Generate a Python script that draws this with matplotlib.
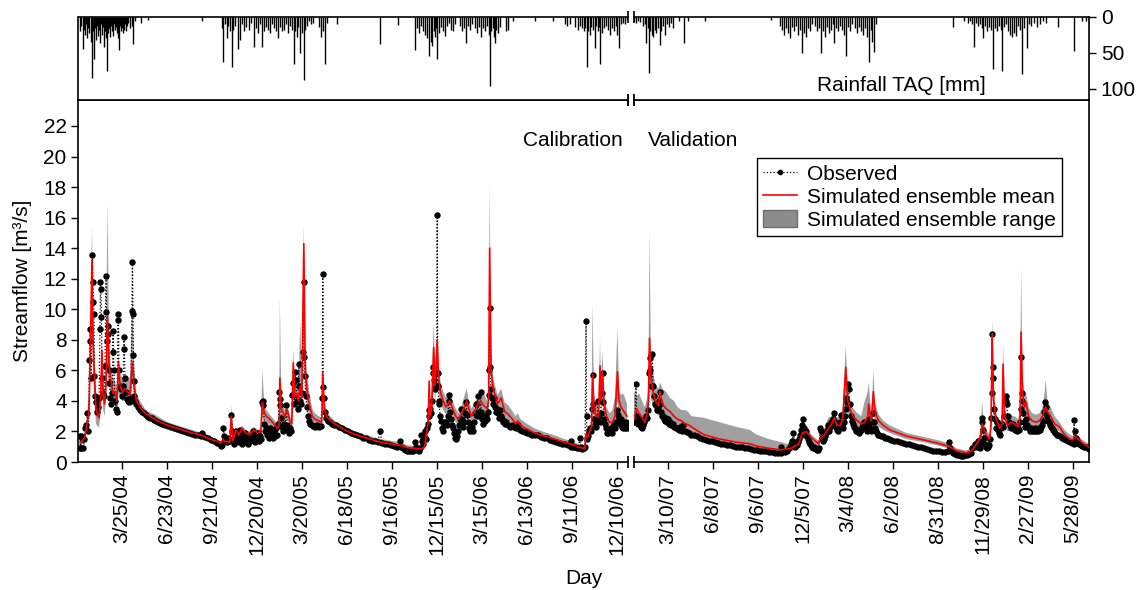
import numpy as np
import matplotlib
matplotlib.use("Agg")
import matplotlib.pyplot as plt
from matplotlib.lines import Line2D
from matplotlib.patches import Patch

plt.rcParams['font.family'] = ['Liberation Sans', 'DejaVu Sans']

# ---------------- data ----------------
cal_start = '2004-01-01'
val_start = '2007-01-01'

tick_labels = ['3/25/04', '6/23/04', '9/21/04', '12/20/04', '3/20/05', '6/18/05',
               '9/16/05', '12/15/05', '3/15/06', '6/13/06', '9/11/06', '12/10/06',
               '3/10/07', '6/8/07', '9/6/07', '12/5/07', '3/4/08', '6/2/08',
               '8/31/08', '11/29/08', '2/27/09', '5/28/09']

# simulated ensemble, calibration: (day since 1/1/04, mean, upper, lower)
cal_sim = [
    (0, 1.3, 1.5, 1.1), (5, 1.4, 1.7, 1.2), (10, 1.6, 2.0, 1.4), (14, 2.5, 3.0, 2.2),
    (18, 3.2, 4.5, 2.8), (21, 8.0, 9.0, 6.0), (24, 13.2, 15.4, 9.0), (26, 8.0, 10.0, 6.0),
    (29, 5.5, 7.0, 4.0), (32, 3.5, 4.5, 2.5), (36, 3.0, 4.0, 2.3), (38, 2.9, 3.8, 2.3),
    (41, 4.0, 5.0, 3.0), (44, 7.3, 8.0, 5.5), (46, 4.5, 5.5, 3.5), (49, 3.8, 4.5, 3.0),
    (52, 5.0, 7.0, 4.0), (55, 9.5, 17.0, 6.0), (58, 6.5, 8.5, 5.0), (61, 5.5, 6.5, 4.5),
    (66, 4.5, 5.5, 4.0), (70, 4.6, 5.3, 4.0), (74, 4.0, 4.8, 3.5), (77, 6.5, 7.0, 4.5),
    (80, 5.0, 5.8, 4.2), (85, 4.6, 5.5, 4.0), (90, 4.8, 5.6, 4.0), (95, 4.6, 5.4, 3.8),
    (100, 4.4, 5.5, 3.8), (105, 6.5, 11.0, 5.5), (108, 5.0, 6.5, 4.2), (113, 4.0, 4.5, 3.5),
    (120, 3.6, 4.0, 3.3), (130, 3.2, 3.5, 3.0), (136, 3.1, 3.3, 2.9), (150, 2.8, 3.1, 2.6),
    (165, 2.55, 2.8, 2.4), (176, 2.4, 2.6, 2.25), (200, 2.15, 2.35, 2.0), (225, 1.9, 2.1, 1.75),
    (243, 1.75, 1.9, 1.6), (260, 1.5, 1.65, 1.35), (270, 1.4, 1.55, 1.25), (283, 1.25, 1.35, 1.1),
    (286, 1.5, 1.6, 1.2), (290, 1.35, 1.45, 1.2), (300, 1.3, 1.4, 1.2), (303, 3.0, 3.7, 2.5),
    (306, 1.4, 1.7, 1.2), (312, 2.1, 2.3, 1.8), (318, 1.8, 2.0, 1.6), (324, 2.2, 2.4, 1.9),
    (332, 1.9, 2.1, 1.7), (340, 1.8, 2.0, 1.6), (348, 2.1, 2.3, 1.8), (356, 1.9, 2.1, 1.7),
    (362, 2.0, 2.2, 1.8), (365, 3.9, 6.0, 3.0), (369, 3.2, 3.8, 2.7), (373, 3.0, 3.4, 2.6),
    (380, 2.8, 3.1, 2.4), (388, 2.5, 2.8, 2.2), (395, 2.2, 2.5, 2.0), (399, 2.4, 3.5, 2.1),
    (400, 5.5, 10.8, 3.5), (403, 3.5, 4.2, 2.8), (410, 3.0, 3.4, 2.6), (415, 3.4, 3.8, 2.8),
    (420, 2.7, 3.0, 2.4), (424, 2.5, 2.8, 2.2), (427, 6.5, 7.4, 4.5), (430, 4.3, 5.0, 3.6),
    (434, 4.5, 5.0, 3.8), (437, 4.0, 4.6, 3.4), (441, 5.0, 9.3, 3.8), (444, 4.2, 5.5, 3.6),
    (448, 14.3, 15.5, 10.0), (451, 6.0, 7.5, 4.8), (455, 4.5, 5.5, 3.6), (460, 3.6, 4.4, 3.0),
    (465, 3.0, 3.5, 2.6), (470, 2.8, 3.2, 2.5), (478, 2.7, 3.0, 2.4), (484, 2.6, 2.9, 2.3),
    (486, 5.8, 6.0, 4.0), (489, 3.5, 4.0, 3.0), (495, 2.9, 3.2, 2.6), (510, 2.5, 2.7, 2.3),
    (530, 2.1, 2.3, 1.9), (543, 1.9, 2.1, 1.75), (560, 1.7, 1.9, 1.55), (576, 1.55, 1.75, 1.4),
    (590, 1.4, 1.6, 1.25), (603, 1.3, 1.5, 1.15), (620, 1.2, 1.4, 1.05), (640, 1.1, 1.3, 0.95),
    (655, 0.95, 1.1, 0.85), (670, 0.9, 1.05, 0.8), (683, 0.85, 1.0, 0.75), (690, 1.0, 1.2, 0.85),
    (694, 2.0, 2.3, 1.6), (697, 2.6, 3.0, 2.2), (699, 5.3, 5.5, 3.0), (701, 3.0, 3.5, 2.6),
    (704, 3.5, 4.5, 3.0), (708, 7.5, 9.2, 5.0), (711, 5.0, 6.0, 4.0), (715, 8.0, 8.5, 6.0),
    (718, 5.5, 6.2, 4.5), (722, 4.5, 5.2, 3.8), (727, 4.0, 4.6, 3.4), (733, 3.6, 4.2, 3.1),
    (740, 4.0, 4.6, 3.4), (746, 3.5, 4.0, 3.0), (752, 3.0, 3.5, 2.6), (758, 2.8, 3.2, 2.4),
    (764, 3.2, 3.7, 2.8), (771, 3.7, 4.5, 3.2), (774, 4.0, 4.8, 3.4), (779, 3.4, 3.9, 2.9),
    (784, 3.0, 3.5, 2.6), (790, 3.3, 3.9, 2.8), (796, 3.8, 4.2, 3.2), (802, 4.0, 4.3, 3.4),
    (808, 3.7, 4.5, 3.1), (815, 3.5, 4.0, 3.0), (818, 4.0, 5.0, 3.2), (820, 14.0, 18.2, 9.0),
    (823, 6.0, 7.5, 4.8), (827, 4.8, 5.5, 4.0), (831, 4.4, 5.0, 3.7), (836, 3.8, 4.4, 3.3),
    (843, 4.2, 4.8, 3.5), (850, 3.3, 3.9, 2.9), (858, 3.1, 3.7, 2.7), (866, 2.8, 3.3, 2.5),
    (872, 2.5, 3.0, 2.2), (876, 2.7, 3.2, 2.4), (882, 2.4, 2.8, 2.2), (895, 2.15, 2.5, 1.95),
    (910, 1.9, 2.2, 1.75), (930, 1.7, 1.95, 1.55), (950, 1.5, 1.75, 1.35), (970, 1.3, 1.5, 1.15),
    (985, 1.15, 1.35, 1.0), (1000, 0.95, 1.15, 0.85), (1010, 0.9, 1.05, 0.8), (1013, 1.8, 2.0, 1.3),
    (1016, 1.6, 1.9, 1.3), (1020, 2.0, 2.3, 1.7), (1024, 2.3, 2.8, 2.0), (1026, 5.7, 10.4, 4.0),
    (1029, 3.5, 4.5, 2.8), (1033, 3.0, 3.6, 2.5), (1038, 3.0, 4.0, 2.5), (1041, 6.3, 8.0, 4.5),
    (1043, 4.0, 5.0, 3.2), (1046, 5.9, 7.3, 4.2), (1049, 3.8, 4.5, 3.0), (1054, 3.0, 3.6, 2.5),
    (1060, 2.6, 3.2, 2.2), (1066, 2.6, 3.4, 2.2), (1071, 3.0, 4.3, 2.5), (1076, 5.9, 8.8, 4.0),
    (1079, 4.0, 4.6, 3.0), (1083, 3.6, 4.4, 2.9), (1087, 3.4, 4.5, 2.7), (1091, 3.2, 4.2, 2.6),
    (1095, 3.0, 3.8, 2.5),
]

# simulated ensemble, validation: (day since 1/1/07, mean, upper, lower)
val_sim = [
    (0, 2.8, 4.6, 2.3), (5, 3.5, 4.3, 2.6), (10, 3.2, 4.5, 2.5), (16, 2.9, 4.0, 2.3),
    (22, 2.6, 3.6, 2.1), (26, 3.2, 4.2, 2.5), (29, 4.0, 5.0, 3.0), (31, 8.1, 15.2, 5.0),
    (34, 5.5, 6.5, 4.2), (38, 4.6, 5.8, 3.6), (44, 3.9, 5.0, 3.2), (49, 3.7, 4.8, 3.0),
    (52, 4.6, 5.2, 3.6), (57, 3.8, 4.8, 3.1), (64, 3.5, 4.6, 2.9), (72, 3.3, 4.2, 2.7),
    (80, 3.0, 4.0, 2.5), (87, 2.8, 3.6, 2.4), (95, 2.7, 3.4, 2.3), (102, 2.5, 3.4, 2.2),
    (108, 2.45, 3.3, 2.1), (115, 2.3, 3.0, 2.0), (139, 1.8, 2.9, 1.6), (172, 1.5, 2.6, 1.3),
    (205, 1.3, 2.3, 1.1), (232, 1.2, 2.1, 1.0), (245, 1.05, 1.8, 0.9), (270, 0.9, 1.5, 0.75),
    (295, 0.8, 1.3, 0.65), (315, 0.9, 1.1, 0.7), (330, 1.2, 1.4, 0.9), (337, 1.9, 2.1, 1.5),
    (345, 2.0, 2.2, 1.6), (355, 1.6, 1.8, 1.3), (369, 1.2, 1.4, 1.0), (374, 1.6, 1.9, 1.3),
    (380, 1.7, 2.1, 1.4), (389, 2.2, 2.9, 1.8), (396, 2.5, 3.0, 2.0), (401, 2.9, 3.3, 2.3),
    (406, 2.4, 2.9, 2.0), (413, 2.4, 3.0, 2.0), (418, 2.8, 3.5, 2.3), (424, 6.2, 7.6, 4.5),
    (428, 4.0, 4.6, 3.2), (433, 3.4, 3.9, 2.8), (439, 3.0, 3.5, 2.5), (447, 2.7, 3.2, 2.3),
    (455, 2.5, 3.0, 2.1), (462, 2.6, 4.0, 2.2), (468, 3.0, 4.6, 2.5), (470, 3.8, 5.2, 2.8),
    (474, 2.7, 3.6, 2.3), (477, 3.2, 4.0, 2.6), (479, 4.6, 6.0, 3.2), (483, 3.2, 3.8, 2.6),
    (490, 2.7, 3.1, 2.3), (499, 2.4, 2.7, 2.1), (512, 2.1, 2.4, 1.9), (545, 1.7, 1.9, 1.5),
    (579, 1.45, 1.65, 1.3), (612, 1.2, 1.4, 1.05), (632, 1.0, 1.2, 0.85), (645, 0.75, 0.9, 0.6),
    (665, 0.6, 0.75, 0.5), (675, 0.7, 0.9, 0.55), (682, 1.0, 1.2, 0.8), (690, 1.4, 1.6, 1.1),
    (695, 1.8, 2.4, 1.4), (697, 2.5, 4.0, 1.8), (700, 2.2, 2.6, 1.7), (705, 1.8, 2.1, 1.4),
    (712, 1.5, 1.8, 1.2), (715, 2.5, 3.0, 2.0), (717, 8.4, 9.4, 6.0), (720, 4.0, 4.8, 3.0),
    (725, 2.8, 3.2, 2.2), (732, 2.2, 2.6, 1.8), (737, 2.5, 3.0, 2.0), (739, 6.4, 7.8, 4.5),
    (742, 3.0, 3.6, 2.4), (748, 2.4, 2.8, 2.0), (755, 2.6, 3.0, 2.1), (762, 2.5, 3.0, 2.1),
    (769, 2.3, 2.8, 1.9), (773, 2.8, 3.4, 2.2), (775, 8.5, 12.8, 6.0), (778, 4.5, 5.5, 3.5),
    (782, 3.6, 4.4, 2.9), (785, 3.9, 4.5, 3.0), (790, 3.0, 3.6, 2.5), (797, 2.7, 3.2, 2.3),
    (805, 2.6, 3.1, 2.2), (812, 2.7, 3.2, 2.3), (818, 3.0, 3.6, 2.5), (822, 3.4, 4.5, 2.8),
    (824, 3.6, 5.4, 3.0), (828, 3.3, 4.0, 2.7), (834, 3.0, 3.6, 2.5), (842, 2.5, 3.0, 2.2),
    (852, 2.3, 2.6, 2.0), (862, 1.8, 2.1, 1.6), (872, 1.5, 1.8, 1.35), (879, 1.45, 1.7, 1.3),
    (882, 1.7, 1.9, 1.4), (889, 1.5, 1.7, 1.3), (900, 1.2, 1.4, 1.05), (910, 1.0, 1.2, 0.9),
]

# observed streamflow, calibration: (day since 1/1/04, m3/s)
cal_obs = [
    (0, 0.9), (1, 1.7), (2, 0.9), (3, 1.7), (5, 1.6), (7, 0.9), (9, 1.5), (11, 2.2), (13, 2.4),
    (15, 3.2), (17, 2.0), (19, 6.7), (20, 8.7), (21, 7.9), (22, 5.5), (25, 13.55), (26, 11.8),
    (27, 10.5), (28, 9.7), (29, 5.6), (30, 4.3), (32, 3.9), (34, 3.3), (36, 3.6), (38, 4.2),
    (40, 8.7), (41, 11.8), (42, 11.3), (43, 9.5), (44, 5.5), (46, 4.5), (48, 4.3), (50, 6.3),
    (52, 12.2), (53, 9.8), (54, 7.9), (56, 8.9), (57, 8.4), (58, 6.0), (59, 5.2), (61, 4.2),
    (63, 3.8), (65, 4.5), (66, 8.6), (67, 7.2), (68, 6.0), (70, 4.0), (72, 3.5), (74, 3.3),
    (76, 9.7), (77, 9.3), (78, 6.0), (80, 5.0), (82, 4.8), (84, 4.3), (86, 5.0), (88, 8.2),
    (89, 7.4), (90, 5.5), (92, 4.6), (94, 4.1), (96, 4.0), (98, 3.9), (100, 4.2), (102, 4.0),
    (104, 9.9), (105, 13.1), (106, 9.7), (107, 7.0), (108, 5.3), (109, 4.3), (111, 4.0),
    (113, 3.8), (116, 3.6), (120, 3.4), (124, 3.3), (128, 3.2), (132, 3.1), (136, 2.95),
    (140, 2.9), (144, 2.85), (148, 2.75), (152, 2.7), (156, 2.6), (160, 2.55), (165, 2.5),
    (170, 2.4), (176, 2.35), (182, 2.3), (188, 2.2), (194, 2.15), (200, 2.1), (206, 2.0),
    (212, 1.95), (218, 1.9), (224, 1.85), (230, 1.8), (236, 1.75), (242, 1.72), (245, 1.9),
    (250, 1.65), (256, 1.55), (262, 1.45), (268, 1.35), (274, 1.25), (280, 1.15), (283, 1.05),
    (285, 1.1), (287, 2.2), (289, 1.7), (291, 1.4), (294, 1.3), (297, 1.6), (300, 1.4),
    (303, 3.05), (305, 2.0), (307, 1.5), (309, 1.2), (311, 1.6), (313, 2.0), (315, 1.4),
    (317, 1.8), (319, 1.3), (321, 2.1), (323, 1.6), (325, 1.2), (327, 1.8), (329, 1.5),
    (331, 1.9), (333, 1.3), (335, 1.6), (337, 1.2), (339, 1.7), (341, 1.4), (343, 1.8),
    (345, 1.5), (347, 2.0), (349, 1.6), (351, 1.3), (353, 1.8), (355, 1.5), (357, 1.9),
    (359, 1.4), (361, 1.7), (363, 1.5), (364, 3.9), (366, 4.0), (367, 3.7), (369, 2.5),
    (371, 2.0), (373, 2.3), (375, 1.8), (377, 2.1), (379, 1.6), (381, 2.2), (383, 1.7),
    (385, 2.0), (387, 1.6), (389, 1.9), (391, 1.7), (393, 2.2), (395, 1.8), (397, 2.5),
    (399, 4.6), (400, 4.1), (401, 3.7), (403, 2.9), (405, 2.3), (407, 2.0), (409, 2.5),
    (411, 2.2), (413, 3.7), (415, 2.4), (417, 2.1), (419, 1.9), (421, 2.2), (423, 2.0),
    (425, 4.4), (426, 5.2), (427, 4.4), (429, 3.8), (431, 5.9), (432, 5.4), (434, 4.0),
    (436, 3.5), (438, 6.4), (439, 5.0), (441, 4.0), (443, 3.8), (445, 4.5), (447, 7.2),
    (448, 11.8), (449, 6.9), (450, 5.6), (452, 4.3), (454, 3.6), (456, 3.0), (458, 2.7),
    (461, 2.5), (464, 2.4), (467, 2.35), (470, 2.3), (474, 2.4), (478, 2.3), (482, 2.35),
    (485, 4.2), (486, 12.3), (487, 4.9), (488, 4.2), (490, 3.3), (493, 2.9), (496, 2.7),
    (500, 2.6), (504, 2.5), (508, 2.45), (512, 2.4), (518, 2.3), (524, 2.2), (530, 2.1),
    (536, 2.0), (542, 1.9), (548, 1.85), (554, 1.8), (560, 1.7), (566, 1.6), (572, 1.55),
    (578, 1.45), (584, 1.4), (590, 1.35), (596, 1.3), (601, 2.05), (604, 1.25), (610, 1.2),
    (616, 1.15), (622, 1.1), (628, 1.05), (634, 1.0), (640, 1.35), (642, 1.0), (646, 0.9),
    (650, 0.8), (654, 0.75), (658, 0.7), (662, 0.7), (666, 0.75), (670, 1.3), (672, 1.0),
    (675, 0.8), (678, 0.75), (681, 0.9), (683, 1.8), (685, 1.4), (687, 1.2), (689, 1.7),
    (690, 2.0), (692, 1.5), (694, 2.2), (696, 2.5), (698, 3.4), (699, 3.0), (701, 3.5),
    (703, 3.2), (705, 4.0), (706, 5.8), (707, 6.2), (708, 5.4), (710, 4.8), (712, 5.0),
    (713, 5.8), (714, 5.0), (715, 16.2), (716, 5.8), (717, 5.0), (718, 4.0), (719, 3.8),
    (721, 3.0), (723, 2.7), (725, 2.2), (727, 2.0), (729, 2.4), (731, 2.6), (733, 2.6),
    (735, 2.4), (737, 3.0), (738, 4.4), (739, 4.0), (741, 3.3), (743, 2.8), (745, 2.4),
    (747, 2.2), (749, 1.9), (751, 1.6), (753, 1.5), (755, 1.7), (757, 2.0), (759, 2.4),
    (761, 2.8), (763, 3.5), (765, 2.8), (767, 2.3), (769, 2.6), (771, 3.2), (773, 3.9),
    (775, 3.1), (777, 2.6), (779, 2.2), (781, 2.0), (783, 2.5), (785, 2.3), (787, 2.0),
    (789, 2.6), (791, 3.2), (793, 3.8), (795, 3.0), (796, 4.3), (798, 3.3), (800, 3.0),
    (802, 4.6), (803, 3.3), (805, 2.8), (807, 2.5), (809, 3.0), (811, 2.7), (813, 3.0),
    (815, 2.8), (817, 3.3), (818, 4.4), (819, 6.0), (820, 10.1), (821, 6.2), (822, 4.8),
    (824, 4.2), (826, 3.8), (828, 4.2), (830, 3.6), (832, 3.3), (834, 3.5), (836, 3.2),
    (838, 2.9), (840, 3.4), (842, 3.0), (844, 2.8), (846, 2.6), (848, 2.7), (850, 2.5),
    (853, 2.6), (856, 2.4), (860, 2.3), (864, 2.4), (868, 2.3), (872, 2.2), (876, 2.4),
    (880, 2.1), (885, 2.0), (890, 1.95), (895, 1.9), (900, 1.85), (905, 1.8), (910, 1.75),
    (916, 1.75), (922, 1.65), (928, 1.6), (934, 1.55), (940, 1.45), (946, 1.4), (952, 1.3),
    (958, 1.25), (964, 1.2), (970, 1.15), (976, 1.1), (982, 1.0), (983, 1.35), (986, 1.0),
    (990, 0.95), (994, 0.9), (998, 0.9), (1000, 1.6), (1002, 1.0), (1005, 0.85), (1008, 0.9),
    (1011, 1.0), (1013, 9.25), (1014, 3.0), (1015, 1.5), (1017, 1.7), (1019, 2.0), (1021, 2.2),
    (1023, 2.0), (1025, 3.5), (1026, 5.7), (1027, 3.8), (1029, 2.8), (1031, 2.5), (1033, 2.3),
    (1035, 2.7), (1036, 4.0), (1038, 3.0), (1040, 2.6), (1042, 3.2), (1044, 4.5), (1046, 5.8),
    (1047, 3.9), (1049, 2.8), (1051, 2.5), (1053, 2.2), (1055, 1.9), (1057, 1.9), (1059, 2.1),
    (1061, 2.0), (1063, 2.2), (1065, 1.9), (1067, 2.3), (1069, 2.5), (1071, 2.2), (1073, 2.6),
    (1075, 3.4), (1076, 3.1), (1078, 2.8), (1080, 2.5), (1082, 2.8), (1084, 2.3), (1086, 2.2),
    (1088, 2.5), (1090, 2.2), (1092, 2.6), (1094, 2.2), (1095, 2.4),
]

# observed streamflow, validation: (day since 1/1/07, m3/s)
val_obs = [
    (1, 2.6), (2, 2.8), (4, 5.1), (5, 3.0), (7, 2.7), (9, 2.5), (11, 2.9), (13, 2.6), (15, 2.3),
    (17, 2.2), (19, 2.4), (21, 2.6), (23, 2.8), (25, 3.0), (27, 2.9), (29, 3.4), (31, 5.8),
    (32, 6.0), (33, 6.8), (34, 7.0), (35, 5.0), (37, 7.1), (38, 5.0), (40, 4.3), (42, 3.8),
    (44, 3.7), (46, 3.4), (48, 3.6), (50, 4.0), (52, 4.6), (53, 3.8), (55, 3.3), (57, 3.0),
    (59, 3.0), (61, 2.8), (63, 2.7), (65, 2.9), (67, 2.6), (69, 2.8), (71, 2.5), (73, 2.6),
    (75, 2.4), (78, 2.5), (81, 2.3), (84, 2.2), (87, 2.2), (90, 2.1), (93, 2.3), (96, 2.0),
    (99, 2.4), (102, 2.0), (106, 1.95), (110, 1.9), (115, 1.8), (120, 1.75), (126, 1.7),
    (132, 1.6), (138, 1.5), (144, 1.45), (150, 1.4), (156, 1.35), (162, 1.3), (168, 1.25),
    (174, 1.2), (180, 1.15), (186, 1.1), (192, 1.1), (198, 1.05), (204, 1.0), (210, 1.0),
    (216, 0.95), (222, 0.9), (228, 0.9), (234, 0.85), (240, 0.8), (246, 0.8), (252, 0.75),
    (258, 0.7), (264, 0.7), (270, 0.65), (276, 0.65), (282, 0.6), (288, 0.6), (294, 0.6),
    (295, 1.0), (298, 0.7), (302, 0.65), (306, 0.75), (310, 0.9), (314, 1.2), (317, 1.4),
    (319, 1.9), (321, 1.3), (323, 1.0), (325, 1.3), (327, 1.1), (329, 1.3), (331, 1.5),
    (333, 1.8), (335, 2.1), (337, 2.4), (338, 2.8), (340, 2.2), (342, 1.8), (344, 2.0),
    (346, 1.7), (348, 1.5), (350, 1.3), (352, 1.2), (354, 1.1), (356, 1.0), (358, 0.9),
    (360, 1.0), (362, 0.9), (364, 0.85), (366, 0.8), (368, 0.8), (370, 0.9), (373, 2.2),
    (374, 2.0), (376, 1.6), (378, 1.4), (380, 1.5), (382, 1.7), (384, 1.9), (386, 2.1),
    (388, 2.4), (390, 2.0), (392, 2.3), (394, 2.6), (396, 2.4), (398, 2.8), (400, 3.2),
    (402, 2.6), (404, 2.3), (406, 2.1), (408, 2.0), (410, 2.3), (412, 2.6), (414, 3.1),
    (416, 2.4), (418, 2.2), (420, 2.6), (422, 3.0), (424, 4.2), (425, 3.5), (427, 3.9),
    (429, 5.1), (430, 4.8), (432, 3.8), (434, 3.0), (436, 2.7), (438, 2.5), (440, 2.3),
    (442, 2.2), (444, 2.0), (446, 2.1), (448, 2.0), (450, 1.9), (452, 2.0), (454, 2.1),
    (456, 2.3), (458, 2.4), (460, 2.6), (462, 2.5), (464, 2.2), (466, 2.0), (468, 2.4),
    (470, 2.8), (472, 2.2), (474, 2.0), (476, 2.6), (478, 3.2), (480, 2.6), (482, 2.2),
    (484, 2.0), (486, 1.9), (488, 1.8), (490, 1.8), (494, 1.7), (498, 1.7), (502, 1.6),
    (506, 1.55), (510, 1.5), (515, 1.45), (520, 1.4), (526, 1.35), (532, 1.3), (538, 1.25),
    (544, 1.2), (550, 1.15), (556, 1.1), (562, 1.05), (568, 1.0), (574, 0.95), (580, 0.9),
    (586, 0.85), (592, 0.8), (598, 0.75), (604, 0.72), (610, 0.7), (616, 0.68), (622, 0.65),
    (628, 0.7), (630, 1.3), (632, 0.9), (635, 0.7), (638, 0.6), (642, 0.5), (646, 0.45),
    (650, 0.45), (654, 0.4), (658, 0.4), (662, 0.45), (666, 0.45), (670, 0.5), (674, 0.6),
    (677, 0.9), (680, 1.0), (683, 1.2), (686, 1.0), (688, 1.4), (690, 1.2), (692, 0.9),
    (694, 1.3), (696, 2.6), (697, 2.9), (699, 2.1), (701, 1.6), (703, 1.2), (705, 1.0),
    (707, 0.9), (709, 1.0), (711, 1.1), (713, 1.5), (715, 2.9), (716, 4.5), (717, 8.4),
    (718, 6.2), (719, 5.5), (720, 3.5), (722, 2.8), (724, 2.2), (726, 2.6), (728, 2.1),
    (730, 1.9), (732, 1.8), (734, 2.2), (736, 2.5), (738, 2.3), (740, 3.0), (742, 4.0),
    (744, 4.3), (745, 4.0), (746, 3.8), (748, 3.0), (750, 2.6), (752, 2.4), (754, 2.2),
    (756, 2.4), (758, 2.5), (760, 2.3), (762, 2.1), (764, 2.3), (766, 2.0), (768, 2.2),
    (770, 2.1), (772, 2.6), (774, 3.5), (775, 6.9), (776, 4.5), (777, 4.0), (779, 3.2),
    (781, 2.6), (783, 2.3), (785, 2.8), (787, 2.4), (789, 2.3), (791, 2.2), (793, 2.0),
    (795, 2.2), (797, 2.0), (799, 2.1), (801, 2.0), (803, 2.2), (805, 2.0), (807, 2.1),
    (809, 2.0), (811, 2.2), (813, 2.1), (815, 2.3), (817, 2.4), (819, 2.7), (821, 3.3),
    (823, 3.9), (824, 3.6), (826, 3.0), (828, 2.7), (830, 2.6), (832, 2.4), (834, 2.3),
    (836, 2.2), (838, 2.1), (840, 2.0), (843, 1.9), (846, 1.8), (849, 1.75), (852, 1.7),
    (856, 1.6), (860, 1.5), (864, 1.45), (868, 1.4), (872, 1.3), (876, 1.25), (880, 1.2),
    (881, 2.75), (882, 2.0), (884, 1.6), (886, 1.4), (888, 1.3), (891, 1.2), (894, 1.1),
    (897, 1.05), (900, 1.0), (904, 0.95), (908, 0.9), (910, 0.85),
]

# daily rainfall TAQ [mm], calibration: (day since 1/1/04, mm)
cal_rain = [
    (1, 20), (3, 12), (6, 45), (8, 18), (10, 25), (12, 10), (14, 30), (16, 15), (19, 22), (22, 35),
    (24, 85), (26, 20), (28, 58), (30, 15), (32, 32), (34, 12), (36, 27), (38, 18), (40, 37),
    (42, 10), (44, 25), (46, 14), (48, 42), (50, 20), (52, 30), (54, 76), (56, 22), (58, 15),
    (60, 28), (62, 12), (64, 20), (66, 26), (68, 10), (70, 18), (72, 14), (74, 22), (76, 30),
    (78, 46), (80, 12), (82, 20), (84, 15), (86, 23), (88, 18), (90, 10), (92, 20), (94, 12),
    (96, 8), (100, 15), (104, 12), (106, 38), (110, 5), (122, 8), (136, 4), (245, 5),
    (284, 15), (286, 63), (290, 10), (294, 30), (296, 12), (300, 20), (304, 70), (307, 18),
    (310, 12), (316, 45), (320, 32), (324, 10), (328, 20), (333, 14), (338, 18), (342, 8),
    (348, 42), (352, 15), (356, 22), (360, 10), (365, 42), (368, 20), (372, 14), (376, 18),
    (380, 22), (384, 10), (388, 16), (392, 20), (396, 30), (400, 14), (404, 20), (408, 18),
    (412, 10), (416, 22), (420, 12), (424, 18), (428, 65), (431, 20), (434, 28), (437, 14),
    (441, 51), (444, 22), (448, 88), (451, 18), (454, 12), (458, 6), (462, 10), (466, 8),
    (478, 14), (482, 28), (486, 20), (490, 65), (494, 8), (514, 10), (601, 38), (636, 11),
    (671, 46), (675, 15), (679, 22), (683, 12), (687, 20), (691, 25), (695, 30), (699, 55),
    (702, 35), (705, 40), (708, 20), (711, 28), (713, 15), (715, 58), (718, 22), (722, 14),
    (726, 20), (730, 27), (734, 12), (738, 8), (742, 18), (746, 20), (750, 10), (760, 12),
    (764, 20), (768, 15), (773, 37), (776, 12), (780, 18), (784, 10), (790, 15), (794, 22),
    (798, 14), (803, 28), (806, 15), (810, 20), (814, 12), (818, 25), (820, 96), (823, 20),
    (826, 15), (828, 28), (830, 37), (833, 18), (836, 22), (840, 14), (852, 20), (856, 18),
    (867, 5), (910, 6), (946, 5), (970, 10), (974, 12), (980, 10), (990, 14), (996, 18),
    (1000, 12), (1004, 15), (1008, 20), (1011, 16), (1014, 70), (1017, 20), (1020, 25),
    (1023, 14), (1026, 18), (1030, 43), (1033, 12), (1036, 20), (1039, 14), (1041, 66),
    (1044, 22), (1048, 16), (1052, 12), (1056, 18), (1060, 25), (1064, 15), (1068, 20),
    (1072, 12), (1075, 25), (1078, 43), (1082, 10), (1086, 8), (1090, 10), (1094, 4),
]

# daily rainfall TAQ [mm], validation: (day since 1/1/07, mm)
val_rain = [
    (1, 6), (4, 8), (8, 5), (12, 7), (18, 12), (22, 10), (25, 37), (28, 15), (30, 78), (33, 20),
    (36, 25), (39, 28), (42, 18), (45, 22), (48, 15), (52, 39), (55, 20), (58, 12), (62, 25),
    (66, 10), (70, 14), (74, 8), (79, 15), (90, 6), (100, 36), (109, 5), (143, 5), (275, 4),
    (292, 12), (296, 18), (300, 25), (304, 15), (308, 22), (312, 30), (316, 14), (320, 20),
    (324, 12), (328, 25), (332, 18), (337, 51), (341, 22), (345, 28), (349, 15), (353, 20),
    (357, 10), (362, 12), (366, 20), (370, 15), (374, 51), (378, 20), (382, 28), (386, 14),
    (390, 22), (394, 18), (398, 10), (401, 37), (405, 15), (409, 20), (413, 12), (417, 18),
    (421, 25), (424, 55), (428, 14), (432, 20), (436, 10), (442, 15), (446, 22), (450, 14),
    (454, 20), (458, 25), (462, 15), (466, 28), (470, 63), (474, 18), (477, 35), (480, 49),
    (484, 10), (639, 14), (660, 5), (668, 8), (672, 6), (676, 10), (680, 42), (684, 8),
    (688, 12), (692, 10), (696, 15), (699, 30), (703, 12), (707, 20), (711, 14), (715, 18),
    (719, 72), (723, 15), (727, 20), (731, 12), (734, 18), (737, 75), (741, 14), (745, 10),
    (749, 20), (752, 25), (756, 28), (760, 22), (764, 26), (768, 12), (772, 18), (776, 79),
    (780, 15), (786, 44), (790, 10), (795, 12), (800, 8), (806, 14), (812, 10), (818, 6),
    (824, 8), (849, 14), (881, 47), (897, 5), (904, 5), (910, 4),
]

# ---------------- helpers ----------------
def to_dates(start, days):
    return np.datetime64(start) + np.asarray(days).astype('timedelta64[D]')

def parse_label(s):
    m, d, y = s.split('/')
    return np.datetime64('20%s-%02d-%02d' % (y, int(m), int(d)))

FS = 15
W, H = 1141, 590
fig = plt.figure(figsize=(W / 100, H / 100), dpi=100)

def fx(px):
    return px / W

def fy(py):
    return 1 - py / H

main_bot, main_top = 462, 100
rain_top = 17
xc0, xc1 = 78.5, 627.5
xv0, xv1 = 634, 1089

ax_c = fig.add_axes([fx(xc0), fy(main_bot), fx(xc1 - xc0), (main_bot - main_top) / H])
ax_v = fig.add_axes([fx(xv0), fy(main_bot), fx(xv1 - xv0), (main_bot - main_top) / H])
rn_c = fig.add_axes([fx(xc0), fy(main_top), fx(xc1 - xc0), (main_top - rain_top) / H])
rn_v = fig.add_axes([fx(xv0), fy(main_top), fx(xv1 - xv0), (main_top - rain_top) / H])

cal_lim = (np.datetime64('2003-12-29'), np.datetime64('2007-01-01'))
val_lim = (np.datetime64('2007-01-01'), np.datetime64('2009-06-30'))

tick_dates = [parse_label(s) for s in tick_labels]

for ax, start, sim, obs, lim in [(ax_c, cal_start, cal_sim, cal_obs, cal_lim),
                                 (ax_v, val_start, val_sim, val_obs, val_lim)]:
    sd, sm, shi, slo = zip(*sim)
    sx = to_dates(start, sd)
    ax.fill_between(sx, slo, shi, facecolor='#a0a0a0', edgecolor='none', zorder=1)
    od, ov = zip(*obs)
    ax.plot(to_dates(start, od), ov, ls=':', lw=0.9, color='black', marker='o',
            ms=3.6, mec='black', mfc='black', zorder=2)
    ax.plot(sx, sm, color='#ff0000', lw=1.2, zorder=3)
    ax.set_xlim(*lim)
    ax.set_ylim(0, 23.7)
    tks = [(d, l) for d, l in zip(tick_dates, tick_labels) if lim[0] <= d <= lim[1]]
    ax.set_xticks([d for d, _ in tks])
    ax.set_xticklabels([l for _, l in tks], rotation=90, fontsize=FS)
    ax.tick_params(axis='x', direction='out', length=5, width=1)
    for sp in ax.spines.values():
        sp.set_linewidth(1.2)

ax_c.spines['right'].set_visible(False)
ax_v.spines['left'].set_visible(False)
ax_c.set_yticks(np.arange(0, 23, 2))
ax_c.tick_params(axis='y', direction='out', length=5, width=1, labelsize=FS)
ax_v.set_yticks([])
ax_c.set_ylabel('Streamflow [m³/s]', fontsize=FS, labelpad=8)

for ax, start, rain, lim in [(rn_c, cal_start, cal_rain, cal_lim),
                             (rn_v, val_start, val_rain, val_lim)]:
    rd, rv = zip(*rain)
    ax.vlines(to_dates(start, rd), 0, rv, color='black', lw=1.0)
    ax.set_xlim(*lim)
    ax.set_ylim(116, 0)
    ax.set_xticks([])
    for sp in ax.spines.values():
        sp.set_linewidth(1.2)

rn_c.spines['right'].set_visible(False)
rn_v.spines['left'].set_visible(False)
rn_c.set_yticks([])
rn_v.yaxis.tick_right()
rn_v.set_yticks([0, 50, 100])
rn_v.tick_params(axis='y', direction='out', length=5, width=1, labelsize=FS)

# axis-break marks
for ax, xpos in [(ax_c, 1), (ax_v, 0), (rn_c, 1), (rn_v, 0)]:
    ax.plot([xpos, xpos], [0, 1], transform=ax.transAxes, ls='none', marker='|',
            ms=9, mew=1.2, color='black', clip_on=False, zorder=5)

fig.text(fx(623), fy(141), 'Calibration', ha='right', va='center', fontsize=FS)
fig.text(fx(648), fy(141), 'Validation', ha='left', va='center', fontsize=FS)
fig.text(fx(817), fy(85), 'Rainfall TAQ [mm]', ha='left', va='center', fontsize=FS)
fig.text(fx(584), fy(578), 'Day', ha='center', va='center', fontsize=FS)

handles = [Line2D([], [], ls=':', lw=0.9, color='black', marker='o', ms=3.0),
           Line2D([], [], color='#ff0000', lw=1.2),
           Patch(facecolor='#8c8c8c', edgecolor='#6e6e6e')]
leg = ax_v.legend(handles, ['Observed', 'Simulated ensemble mean', 'Simulated ensemble range'],
                  loc='upper left', bbox_to_anchor=(fx(757), fy(158)),
                  bbox_transform=fig.transFigure, fontsize=FS, frameon=True,
                  fancybox=False, framealpha=1, edgecolor='black', borderpad=0.3,
                  labelspacing=0.15, handlelength=1.6, handleheight=0.9,
                  handletextpad=0.5, numpoints=1, borderaxespad=0)
leg.get_frame().set_linewidth(1.0)

fig.savefig('out.png', dpi=100)
